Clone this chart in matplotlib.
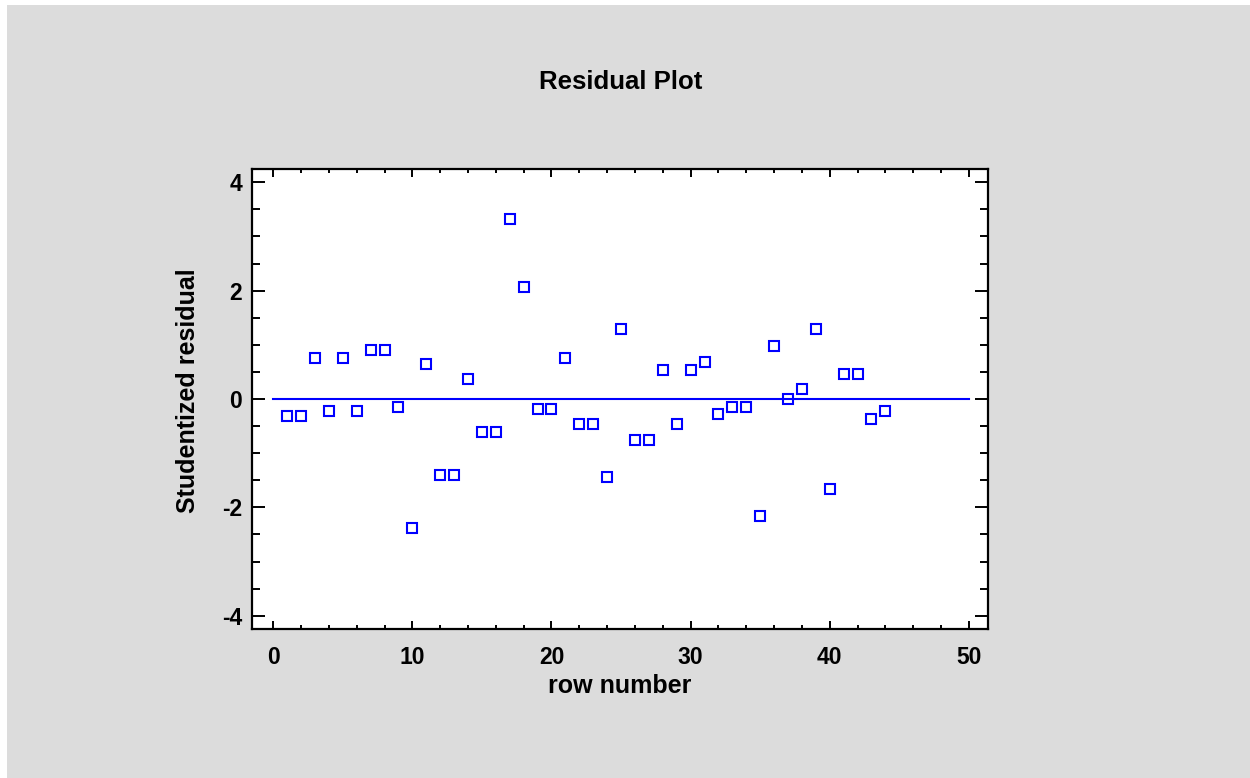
import matplotlib
matplotlib.use("Agg")
import matplotlib.pyplot as plt
from matplotlib.patches import Rectangle
from matplotlib.ticker import MultipleLocator

row_number = list(range(1, 45))
studentized_residual = [
    -0.32, -0.32, 0.76, -0.22, 0.76, -0.22, 0.90, 0.90, -0.14, -2.38,
    0.65, -1.40, -1.40, 0.36, -0.61, -0.61, 3.32, 2.06, -0.18, -0.18,
    0.76, -0.47, -0.47, -1.44, 1.29, -0.75, -0.75, 0.54, -0.47, 0.54,
    0.69, -0.28, -0.14, -0.14, -2.16, 0.98, 0.00, 0.18, 1.29, -1.66,
    0.47, 0.47, -0.36, -0.22,
]
zero_line_x = [0, 50]
zero_line_y = [0, 0]
x_ticks = [0, 10, 20, 30, 40, 50]
y_ticks = [-4, -2, 0, 2, 4]

plt.rcParams['font.family'] = ['Liberation Sans', 'DejaVu Sans']
plt.rcParams['font.weight'] = 'bold'
plt.rcParams['axes.unicode_minus'] = False

W, H = 1250, 778
fig = plt.figure(figsize=(W / 100, H / 100), dpi=100)
fig.patch.set_facecolor('white')
fig.add_artist(Rectangle((7 / W, 0), 1 - 7 / W, 1 - 5 / H, transform=fig.transFigure,
                         facecolor='#dcdcdc', edgecolor='none', zorder=-10))

ax = fig.add_axes([252 / W, 1 - 629 / H, (988 - 252) / W, (629 - 169) / H])
ax.set_facecolor('white')

ax.plot(zero_line_x, zero_line_y, color='#0000ff', lw=1.5, zorder=2)
ax.plot(row_number, studentized_residual, linestyle='none', marker='s',
        markersize=6.8, markerfacecolor='none', markeredgecolor='#0000ff',
        markeredgewidth=1.5, zorder=3)

ax.set_xlim(-1.53, 51.38)
ax.set_ylim(-4.245, 4.245)
ax.set_xticks(x_ticks)
ax.set_yticks(y_ticks)
ax.xaxis.set_minor_locator(MultipleLocator(2))
ax.yaxis.set_minor_locator(MultipleLocator(0.5))

for s in ax.spines.values():
    s.set_linewidth(1.6)
    s.set_color('black')

ax.tick_params(axis='x', which='major', direction='in', length=6, width=1.4,
               top=True, bottom=True, labelsize=16.5, pad=12)
ax.tick_params(axis='x', which='minor', direction='in', length=3.2, width=1.4,
               top=True, bottom=True)
ax.tick_params(axis='y', which='major', direction='in', length=9.5, width=1.4,
               left=True, right=True, labelsize=16.5, pad=7)
ax.tick_params(axis='y', which='minor', direction='in', length=5.5, width=1.4,
               left=True, right=True)
for lab in ax.get_xticklabels() + ax.get_yticklabels():
    lab.set_fontweight('bold')

ax.set_xlabel('row number', fontsize=18, fontweight='bold', labelpad=4)
ax.set_ylabel('Studentized residual', fontsize=18, fontweight='bold')
ax.yaxis.set_label_coords(200 / W, 1 - 391 / H, transform=fig.transFigure)
fig.text(621 / W, 1 - 82 / H, 'Residual Plot', ha='center', va='center',
         fontsize=18.5, fontweight='bold')

fig.savefig('out.png', dpi=100, facecolor=fig.get_facecolor())
